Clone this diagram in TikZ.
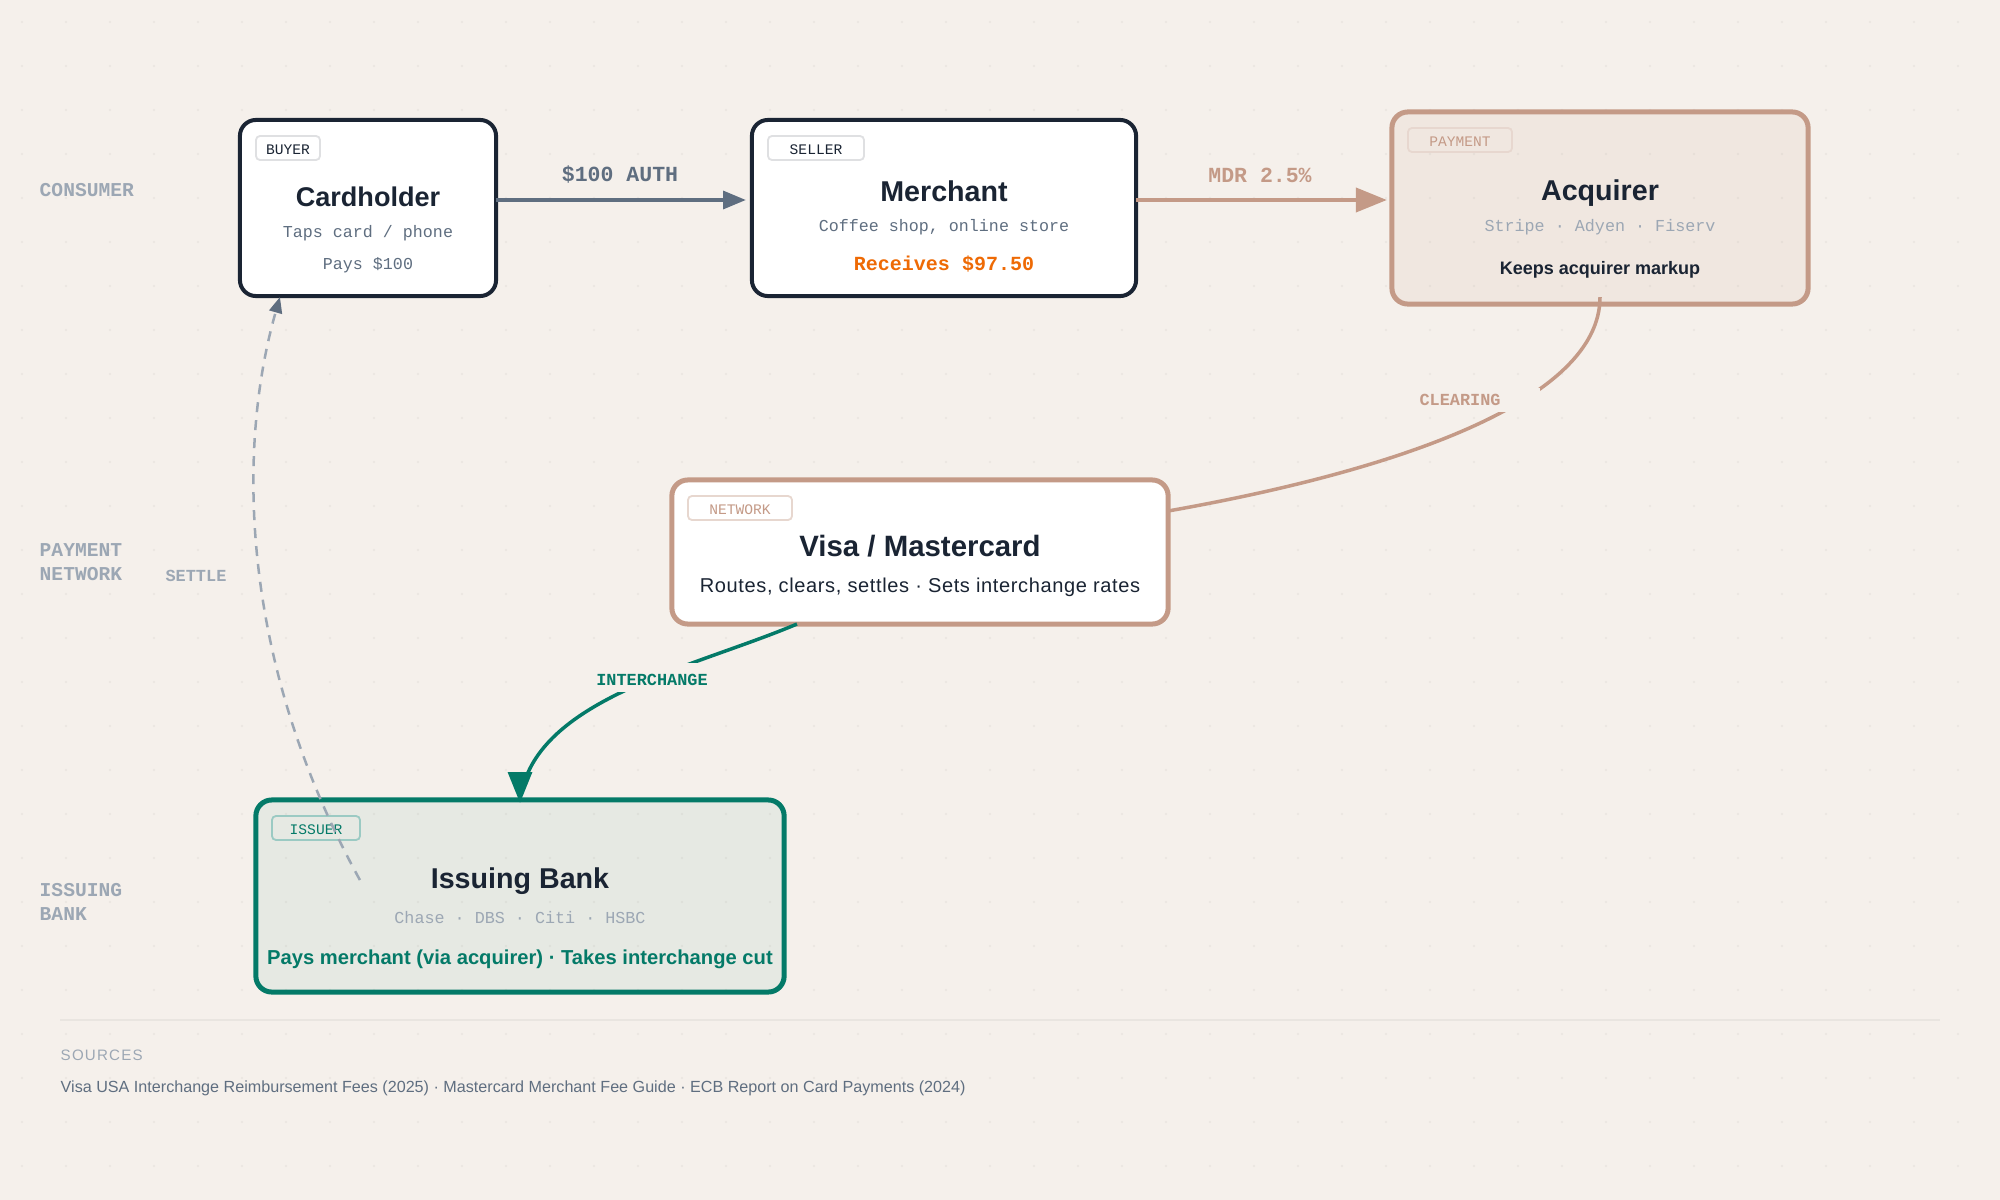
\documentclass[tikz,border=0pt]{standalone}
\usepackage{fontspec}
\setmainfont{Liberation Sans}
\setmonofont{Liberation Mono}
\usetikzlibrary{arrows.meta}
\definecolor{paper}{HTML}{F5F0EB}
\definecolor{griddot}{HTML}{E9E5E0}
\definecolor{ink}{HTML}{1A2433}
\definecolor{slate}{HTML}{5F6E80}
\definecolor{mist}{HTML}{9CA7B4}
\definecolor{clay}{HTML}{C49A87}
\definecolor{pine}{HTML}{047A68}
\definecolor{ember}{HTML}{EE6A05}
\newcommand{\titlefont}{\fontsize{8.15}{9}\bfseries\selectfont}
\newcommand{\subfont}{\fontsize{4.74}{6}\ttfamily\selectfont}
\newcommand{\tagfont}{\fontsize{4.15}{5}\ttfamily\selectfont}
\newcommand{\flowfont}{\fontsize{6.12}{7}\ttfamily\bfseries\selectfont}
\newcommand{\smallflowfont}{\fontsize{4.8}{6}\ttfamily\bfseries\selectfont}
\newcommand{\lanefont}{\fontsize{5.58}{6.83}\ttfamily\bfseries\selectfont}
\begin{document}
\begin{tikzpicture}[x=0.01cm,y=-0.01cm,
    card/.style={draw=ink, line width=0.04cm, rounded corners=0.16cm, fill=white, outer sep=0pt, inner sep=0pt},
    clay card/.style={card, draw=clay, line width=0.05cm},
    tag/.style={rounded corners=0.04cm, line width=0.018cm, minimum height=0.24cm, inner sep=0pt, outer sep=0pt, text height=0.12cm, text depth=0pt, font=\tagfont},
    title/.style={inner sep=0pt, text=ink, font=\titlefont},
    sub/.style={inner sep=0pt, text=slate, font=\subfont},
    lane/.style={anchor=west, align=left, inner sep=0pt, text=mist, font=\lanefont},
    flow label/.style={inner sep=0pt, font=\flowfont},
    curve label/.style={fill=paper, inner xsep=0pt, inner ysep=0pt, minimum width=1.6cm, font=\smallflowfont}]
  \useasboundingbox (0,0) rectangle (2000,1200);
  \fill[paper] (0,0) rectangle (2000,1200);
  % dot grid
  \foreach \i in {0,...,45}
    \foreach \j in {0,...,27}
      \fill[griddot] (22+44*\i,22+44*\j) circle[radius=1.1];

  % lanes
  \node[lane] (consumer) at (39,190) {CONSUMER};
  \node[lane] (paynet) at (39,562) {PAYMENT\\NETWORK};
  \node[lane] (issuing) at (39,902) {ISSUING\\BANK};

  % cards
  \node[card, minimum width=2.56cm, minimum height=1.76cm] (cardholder) at (368,208) {};
  \node[card, minimum width=3.84cm, minimum height=1.76cm] (merchant) at (944,208) {};
  \node[clay card, fill=clay, fill opacity=.1, minimum width=4.16cm, minimum height=1.92cm] (acquirer) at (1600,208) {};
  \node[clay card, minimum width=4.96cm, minimum height=1.44cm] (visa) at (920,552) {};
  \node[card, draw=pine, line width=0.05cm, fill=pine, fill opacity=.06, minimum width=5.28cm, minimum height=1.92cm] (bank) at (520,896) {};

  % tags
  \node[tag, draw=ink!14, text=ink, minimum width=0.64cm] (buyer) at (288,148) {BUYER};
  \node[tag, draw=ink!14, text=ink, minimum width=0.96cm] (seller) at (816,148) {SELLER};
  \node[tag, draw=clay!40, text=clay, minimum width=1.04cm] (payment) at (1460,140) {PAYMENT};
  \node[tag, draw=clay!40, text=clay, minimum width=1.04cm] (network) at (740,508) {NETWORK};
  \node[tag, draw=pine!40, text=pine, minimum width=0.88cm] (issuer) at (316,828) {ISSUER};

  % card texts
  \node[title, font=\fontsize{7.7}{9}\bfseries\selectfont] (cardholdername) at (368,196.5) {Cardholder};
  \node[sub] (cardholdertap) at (368,233.5) {Taps card / phone};
  \node[sub] (cardholderpay) at (368,265) {Pays \$100};
  \node[title] (merchantname) at (944,191.5) {Merchant};
  \node[sub] (merchantwhere) at (944,227.5) {Coffee shop, online store};
  \node[inner sep=0pt, text=ember, font=\fontsize{5.69}{7}\ttfamily\bfseries\selectfont] (merchantgets) at (944,264) {Receives \$97.50};
  \node[title] (acquirername) at (1600,193.5) {Acquirer};
  \node[sub, text=mist, font=\fontsize{4.76}{6}\ttfamily\selectfont] (acquirerwho) at (1600,227.5) {Stripe · Adyen · Fiserv};
  \node[inner sep=0pt, text=ink, font=\fontsize{5.13}{6}\bfseries\selectfont] (acquirerkeeps) at (1600,269.5) {Keeps acquirer markup};
  \node[title, font=\fontsize{8.36}{9}\bfseries\selectfont] (visaname) at (920,546) {Visa / Mastercard};
  \node[inner sep=0pt, text=ink, font=\fontsize{5.7}{7}\selectfont\addfontfeatures{LetterSpace=3}] (visadoes) at (920,587.5) {Routes, clears, settles · Sets interchange rates};
  \node[title] (bankname) at (520,881.5) {Issuing Bank};
  \node[sub, text=mist, font=\fontsize{4.76}{6}\ttfamily\selectfont] (bankwho) at (520,918) {Chase · DBS · Citi · HSBC};
  \node[inner sep=0pt, text=pine, font=\fontsize{5.74}{7}\bfseries\selectfont] (bankdoes) at (520,959) {Pays merchant (via acquirer) · Takes interchange cut};

  % connectors
  \coordinate (bendend) at (525,780);
  \draw[slate, line width=0.035cm, -{Triangle[length=6.5pt,width=5.1pt]}]
    ([yshift=0.08cm]cardholder.east) -- ([yshift=0.08cm,xshift=-0.06cm]merchant.west);
  \draw[clay, line width=0.04cm, -{Triangle[length=8.8pt,width=6.8pt]}]
    ([yshift=0.08cm]merchant.east) -- ([yshift=0.08cm,xshift=-0.05cm]acquirer.west);
  \draw[clay, line width=0.035cm]
    ([yshift=0.07cm]acquirer.south) .. controls (1600,400) and (1400,470) .. ([yshift=0.41cm]visa.east);
  \draw[pine, line width=0.035cm]
    ([xshift=-1.23cm]visa.south) .. controls (700,665) and (555,695) .. (bendend);
  \draw[pine, line width=0.035cm, -{Triangle[length=8.8pt,width=6.8pt]}]
    ([yshift=0.28cm]bank.north) -- ([yshift=-0.03cm]bank.north);
  \draw[mist, line width=0.025cm, dash pattern=on 0.1cm off 0.08cm, -{Triangle[length=4.5pt,width=3.7pt,color=slate]}]
    ([xshift=-1.6cm,yshift=0.16cm]bank.center) .. controls (239,660) and (237,447) .. ([xshift=-0.88cm,yshift=-0.01cm]cardholder.south);

  % connector labels
  \node[flow label, text=slate] (authlabel) at (620,175) {\$100 AUTH};
  \node[flow label, text=clay] (mdrlabel) at (1260,175) {MDR 2.5\%};
  \node[curve label, text=clay, minimum height=0.24cm] (clearinglabel) at (1460,400) {CLEARING};
  \node[curve label, text=pine, minimum height=0.29cm, text height=0.162cm, text depth=0pt] (interchangelabel) at (652,677.5) {INTERCHANGE};
  \node[flow label, text=mist, font=\smallflowfont] (settlelabel) at (196,576) {SETTLE};

  % sources
  \draw[griddot, line width=0.02cm] (60,1020) -- (1940,1020);
  \node[anchor=west, inner sep=0pt, text=mist, font=\fontsize{4.3}{6}\selectfont\addfontfeatures{LetterSpace=8}] (sourceshead) at (60,1055) {SOURCES};
  \node[anchor=west, inner sep=0pt, text=slate, font=\fontsize{4.59}{6}\selectfont] (sourceslist) at (60,1088.5) {Visa USA Interchange Reimbursement Fees (2025) · Mastercard Merchant Fee Guide · ECB Report on Card Payments (2024)};
\end{tikzpicture}
\end{document}
